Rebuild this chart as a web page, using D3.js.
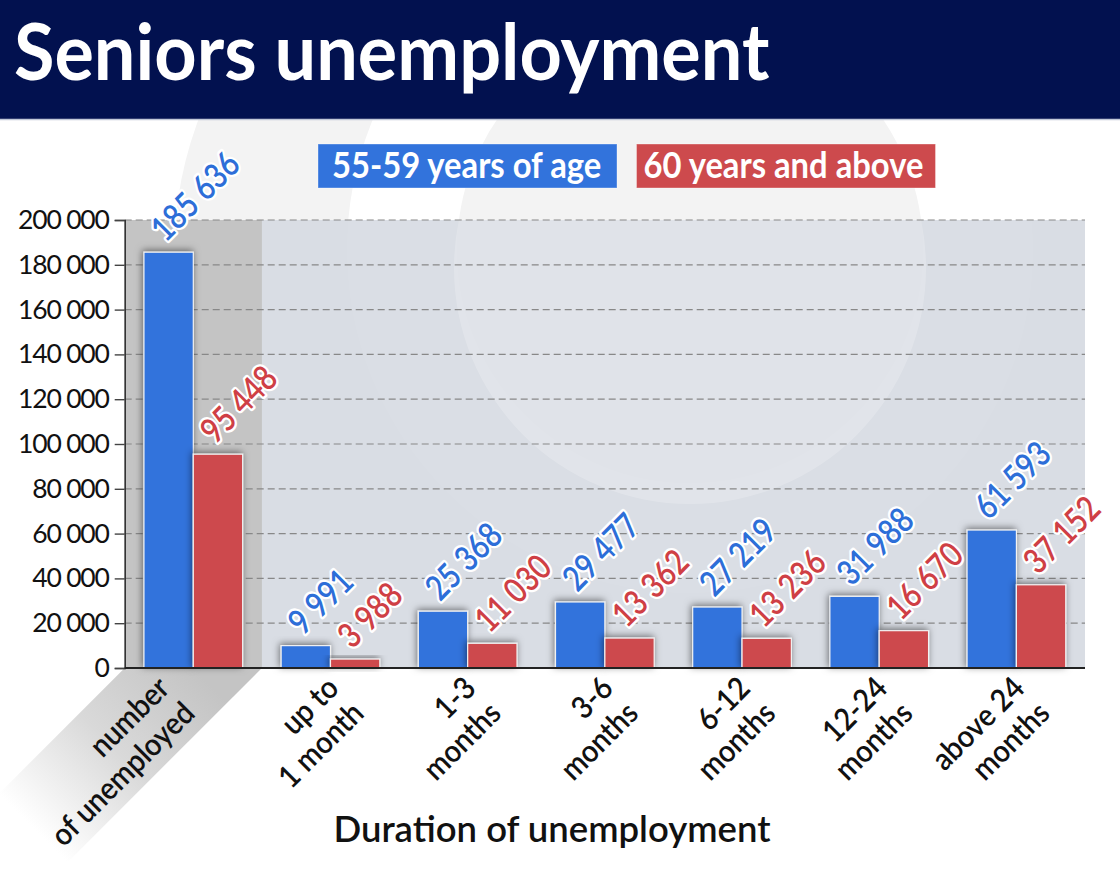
<!DOCTYPE html>
<html>
<head>
<meta charset="utf-8">
<script src="https://cdn.jsdelivr.net/npm/d3@7"></script>
<style>
  html, body { margin: 0; padding: 0; background: #ffffff; }
  svg { display: block; font-family: Lato, "Open Sans", sans-serif; }
</style>
</head>
<body>
<svg id="chart" width="1120" height="880"></svg>
<script>
// ---------------- data ----------------
const title = "Seniors unemployment";
const axisTitle = "Duration of unemployment";
const categories = [
  ["number", "of unemployed"],
  ["up to", "1 month"],
  ["1-3", "months"],
  ["3-6", "months"],
  ["6-12", "months"],
  ["12-24", "months"],
  ["above 24", "months"]
];
const seriesNames = ["55-59 years of age", "60 years and above"];
const age55to59 = [185636, 9991, 25368, 29477, 27219, 31988, 61593];
const age60plus = [95448, 3988, 11030, 13362, 13236, 16670, 37152];
const yTicks = [0, 20000, 40000, 60000, 80000, 100000, 120000, 140000, 160000, 180000, 200000];
const seriesColors = ["#3273dc", "#cd4a4d"];
const labelColors = ["#2d6ed8", "#cf3f45"];

// ---------------- setup ----------------
const W = 1120, H = 880;
const svg = d3.select("#chart");
const defs = svg.append("defs");

const fmt = d3.formatLocale({ decimal: ".", thousands: " ", grouping: [3], currency: ["", ""] }).format(",d");

const plot = { left: 124.7, right: 1085, top: 220, bottom: 668 };

const x0 = d3.scaleBand().domain(d3.range(categories.length)).range([plot.left, plot.right]).paddingInner(0).paddingOuter(0);
const x1 = d3.scaleBand().domain([0, 1]).range([0, x0.step()]).paddingInner(0).paddingOuter(0.39);
const y = d3.scaleLinear().domain([0, 200000]).range([plot.bottom, plot.top]);

// filters / gradients
const f = defs.append("filter").attr("id", "shadow").attr("x", "-40%").attr("y", "-40%").attr("width", "180%").attr("height", "180%");
f.append("feDropShadow").attr("dx", -1).attr("dy", -1.5).attr("stdDeviation", 3.5).attr("flood-color", "#000").attr("flood-opacity", 0.5);

const wmClip = defs.append("clipPath").attr("id", "plotClip");
wmClip.append("rect").attr("x", plot.left).attr("y", plot.top).attr("width", plot.right - plot.left).attr("height", plot.bottom - plot.top);

// ---------------- watermark (light logo) ----------------
const wm = svg.append("g");
wm.append("circle").attr("cx", 562).attr("cy", 255).attr("r", 388).attr("fill", "#f3f3f3");
wm.append("circle").attr("cx", 690).attr("cy", 250).attr("r", 288).attr("fill", "none").attr("stroke", "#ffffff").attr("stroke-width", 110);

// ---------------- header ----------------
svg.append("rect").attr("x", 0).attr("y", 0).attr("width", W).attr("height", 119).attr("fill", "#02114f");
svg.append("line").attr("x1", 0).attr("x2", W).attr("y1", 119.5).attr("y2", 119.5).attr("stroke", "#c2c8d8").attr("stroke-width", 1.5);
svg.append("text").attr("transform", "translate(14,80) scale(0.935,1)").attr("fill", "#ffffff")
  .attr("font-size", 79).attr("font-weight", 700).text(title);

// ---------------- legend ----------------
const legendX = [318, 636.5];
seriesNames.forEach((name, i) => {
  const g = svg.append("g").attr("transform", `translate(${legendX[i]},144)`);
  g.append("rect").attr("width", 299).attr("height", 44).attr("fill", seriesColors[i])
    .attr("stroke", "rgba(255,255,255,0.35)").attr("stroke-width", 1);
  g.append("text").attr("transform", `translate(${i === 0 ? 14 : 7},34) scale(0.91,1)`).attr("fill", "#fff")
    .attr("font-size", 36).attr("font-weight", 700).text(name);
});

// ---------------- plot background ----------------
svg.append("rect").attr("x", plot.left).attr("y", plot.top).attr("width", plot.right - plot.left)
  .attr("height", plot.bottom - plot.top).attr("fill", "#d9dde4");
// watermark inside plot
const wmIn = svg.append("g").attr("clip-path", "url(#plotClip)");
wmIn.append("circle").attr("cx", 690).attr("cy", 268).attr("r", 236).attr("fill", "#ffffff").attr("opacity", 0.2);
wmIn.append("circle").attr("cx", 690).attr("cy", 250).attr("r", 288).attr("fill", "none").attr("stroke", "#ffffff").attr("stroke-width", 110).attr("opacity", 0.05);

// highlighted first column
const hx0 = x0(0), hx1 = x0(0) + x0.step();
svg.append("rect").attr("x", hx0).attr("y", plot.top).attr("width", x0.step()).attr("height", plot.bottom - plot.top).attr("fill", "#c4c4c4");

// diagonal band under first label
const L = 230;
const grad = defs.append("linearGradient").attr("id", "bandGrad").attr("gradientUnits", "userSpaceOnUse")
  .attr("x1", (hx0 + hx1) / 2).attr("y1", plot.bottom).attr("x2", (hx0 + hx1) / 2 - 160).attr("y2", plot.bottom + 160);
grad.append("stop").attr("offset", 0).attr("stop-color", "#c4c4c4");
grad.append("stop").attr("offset", 0.5).attr("stop-color", "#d9d9d9");
grad.append("stop").attr("offset", 1).attr("stop-color", "#ffffff");
svg.append("path")
  .attr("d", `M${hx0},${plot.bottom} L${hx1},${plot.bottom} L${hx1 - L},${plot.bottom + L} L${hx0 - L},${plot.bottom + L} Z`)
  .attr("fill", "url(#bandGrad)");

// ---------------- grid ----------------
svg.append("g").selectAll("line").data(yTicks.filter(d => d > 0)).join("line")
  .attr("x1", plot.left).attr("x2", plot.right)
  .attr("y1", d => y(d)).attr("y2", d => y(d))
  .attr("stroke", "#888").attr("stroke-width", 1.2).attr("stroke-dasharray", "7,4");

// ---------------- y axis ----------------
const yAxis = d3.axisLeft(y).tickValues(yTicks).tickFormat(fmt).tickSize(10).tickPadding(6);
const yg = svg.append("g").attr("transform", `translate(${plot.left},0)`).call(yAxis);
yg.select(".domain").attr("stroke", "#333").attr("stroke-width", 1.6);
yg.selectAll(".tick line").attr("stroke", "#444").attr("stroke-width", 1.4);
yg.selectAll(".tick text").attr("font-size", 26.5).attr("fill", "#111").attr("letter-spacing", -1.2)
  .attr("font-family", "Lato, sans-serif");

// ---------------- bars ----------------
const series = [age55to59, age60plus];
const barData = [];
categories.forEach((c, i) => {
  series.forEach((s, k) => barData.push({ i, k, v: s[i] }));
});
svg.append("g").selectAll("rect").data(barData).join("rect")
  .attr("x", d => x0(d.i) + x1(d.k))
  .attr("y", d => y(d.v))
  .attr("width", x1.bandwidth())
  .attr("height", d => y(0) - y(d.v))
  .attr("fill", d => seriesColors[d.k])
  .attr("stroke", "#f2f2f2").attr("stroke-width", 1.2)
  .attr("filter", "url(#shadow)");

// baseline
svg.append("line").attr("x1", plot.left).attr("x2", plot.right).attr("y1", y(0)).attr("y2", y(0))
  .attr("stroke", "#222").attr("stroke-width", 2);

// ---------------- value labels ----------------
svg.append("g").selectAll("text").data(barData).join("text")
  .attr("transform", d => `translate(${x0(d.i) + x1(d.k) + x1.bandwidth() / 2 - 3},${y(d.v) - 9}) rotate(-45) scale(0.83,1)`)
  .attr("font-size", 35).attr("font-weight", 600).attr("fill", d => labelColors[d.k])
  .attr("stroke", "#fff").attr("stroke-width", 5).attr("stroke-linejoin", "round")
  .attr("paint-order", "stroke")
  .text(d => fmt(d.v));

// ---------------- x labels ----------------
const xl = svg.append("g").selectAll("text").data(categories).join("text")
  .attr("transform", (d, i) => {
    const cx = x0(i) + x0.step() / 2 + (i === 0 ? -22 : 10);
    return `translate(${cx},690) rotate(-45) scale(0.92,1)`;
  })
  .attr("text-anchor", "end").attr("font-size", 31).attr("font-weight", 600).attr("fill", "#111");
xl.selectAll("tspan").data(d => d).join("tspan")
  .attr("x", 0).attr("dy", (d, j) => j === 0 ? 0 : "1.15em").text(d => d);

// ---------------- axis title ----------------
svg.append("text").attr("x", 552).attr("y", 842).attr("text-anchor", "middle")
  .attr("font-size", 36.5).attr("font-weight", 600).attr("fill", "#111").text(axisTitle);
</script>
</body>
</html>
